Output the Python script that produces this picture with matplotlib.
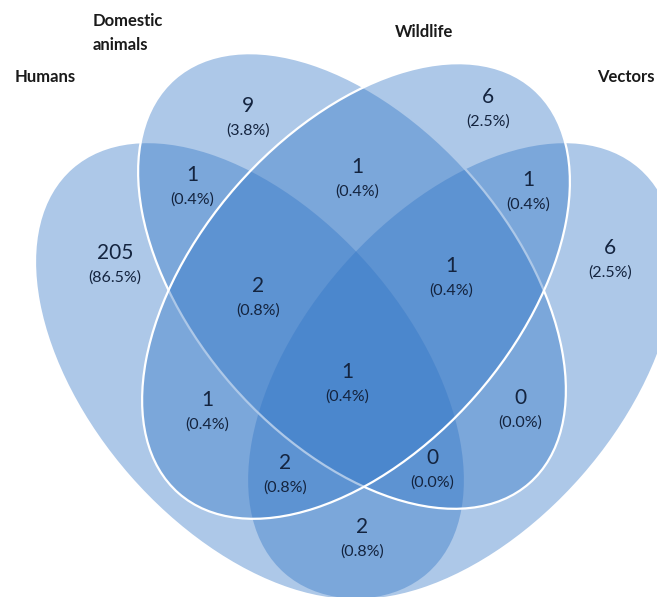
import matplotlib
matplotlib.use("Agg")
import matplotlib.pyplot as plt
from matplotlib.patches import Ellipse

# set names and the region counts / shares
sets = ["Humans", "Domestic\nanimals", "Wildlife", "Vectors"]
regions = ["H", "D", "W", "V", "HD", "DW", "WV", "HDW", "DWV", "HDWV",
           "HW", "HWV", "HV", "HDV", "DV"]
counts = [205, 9, 6, 6, 1, 1, 1, 2, 1, 1, 1, 2, 2, 0, 0]
shares = ["86.5%", "3.8%", "2.5%", "2.5%", "0.4%", "0.4%", "0.4%", "0.8%",
          "0.4%", "0.4%", "0.4%", "0.8%", "0.8%", "0.0%", "0.0%"]

# layout (pixel space of the picture, y going down)
label_pos = {
    "H": (115, 253), "D": (248, 106), "W": (488, 97), "V": (610, 248),
    "HD": (192, 175), "DW": (357, 167), "WV": (528, 180),
    "HDW": (258, 286), "DWV": (451, 266), "HDWV": (347, 372),
    "HW": (207, 400), "HWV": (285, 463), "HV": (362, 527),
    "HDV": (432, 458), "DV": (520, 398),
}
# centre, width, height, angle, white outline
shapes = [
    ((250, 371), 538, 318, 48.75, False),   # Humans
    ((462, 371), 538, 318, -48.75, False),  # Vectors
    ((352, 281), 538, 318, 48.75, True),    # Domestic animals
    ((356, 291), 538, 318, -48.75, True),   # Wildlife
]
set_pos = [(15, 77), (93, 33), (395, 32), (597, 77)]

fill = (50 / 255, 118 / 255, 198 / 255, 0.4)
txt = "#14243f"

fig = plt.figure(figsize=(6.57, 5.97), dpi=100)
ax = fig.add_axes([0, 0, 1, 1])
ax.set_xlim(0, 657)
ax.set_ylim(597, 0)
ax.axis("off")

for (c, w, h, ang, edge) in shapes:
    ax.add_patch(Ellipse(c, w, h, angle=ang, facecolor=fill,
                         edgecolor="white" if edge else "none",
                         linewidth=1.6 if edge else 0))

for name, n, p in zip(regions, counts, shares):
    x, y = label_pos[name]
    ax.text(x, y, str(n), ha="center", va="center", fontsize=15,
            family="Lato", color=txt)
    ax.text(x, y + 25, "(" + p + ")", ha="center", va="center", fontsize=11.5,
            family="Lato", color=txt)

for name, (x, y) in zip(sets, set_pos):
    ax.text(x, y, name, ha="left", va="center", fontsize=12, fontweight="bold",
            family="Lato", color="#1a1a1a", linespacing=1.65)

fig.savefig("out.png", dpi=100)
